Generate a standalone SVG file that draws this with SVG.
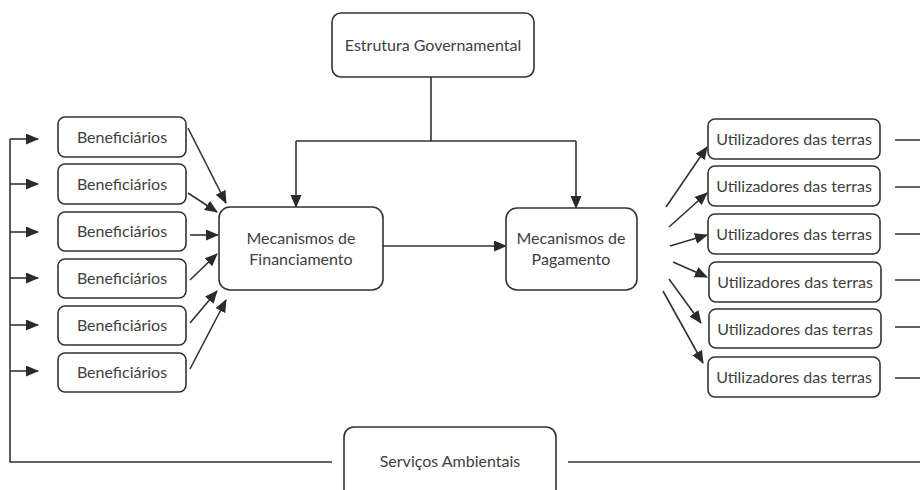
<svg xmlns="http://www.w3.org/2000/svg" width="920" height="490" viewBox="0 0 920 490">
<defs>
<marker id="ah" markerUnits="userSpaceOnUse" markerWidth="13" markerHeight="12" refX="12" refY="5.5" orient="auto">
<path d="M0,0 L13,5.5 L0,11 z" fill="#2a2a2a"/>
</marker>
<style>
.box{fill:#fff;stroke:#333;stroke-width:1.6}
.t{font-family:Lato,"Open Sans","Liberation Sans",sans-serif;font-size:16px;fill:#404040;text-anchor:middle}
.c{fill:none;stroke:#333;stroke-width:1.6}
.a{fill:none;stroke:#333;stroke-width:1.6;marker-end:url(#ah)}
</style>
</defs>
<rect width="920" height="490" fill="#fff"/>
<g id="connectors">
<path class="c" d="M431,77 V141 M296,141 H576"/>
<path class="a" d="M296,141 V207"/>
<path class="a" d="M576,141 V208"/>
<path class="a" d="M383,246 H506"/>
<path class="c" d="M10,139 V462 H332"/>
<path class="c" d="M568,462 H920"/>
<path class="a" d="M10,139 H38"/>
<path class="a" d="M10,184 H38"/>
<path class="a" d="M10,232 H38"/>
<path class="a" d="M10,278 H38"/>
<path class="a" d="M10,325 H38"/>
<path class="a" d="M10,371 H38"/>
<path class="a" d="M188,128 L226,203"/>
<path class="a" d="M188,193 L217,212"/>
<path class="a" d="M190,235 H218"/>
<path class="a" d="M190,280 L217,254"/>
<path class="a" d="M190,323 L217,291"/>
<path class="a" d="M190,369 L226,300"/>
<path class="a" d="M666,207 L707,147"/>
<path class="a" d="M669,227 L707,193"/>
<path class="a" d="M670,246 L707,235"/>
<path class="a" d="M673,262 L707,277"/>
<path class="a" d="M669,279 L701,323"/>
<path class="a" d="M663,291 L703,363"/>
<path class="c" d="M895,140 H920 M895,187 H920 M895,234 H920 M895,280 H920 M895,327 H920 M895,378 H920"/>
</g>
<g id="gov"><rect class="box" x="332" y="13" width="202" height="64" rx="9"/><text class="t" x="433" y="51">Estrutura Governamental</text></g>
<g id="fin"><rect class="box" x="219" y="207" width="164" height="83" rx="11"/><text class="t" x="301" y="244">Mecanismos de</text><text class="t" x="301" y="265">Financiamento</text></g>
<g id="pag"><rect class="box" x="506" y="208" width="131" height="82" rx="11"/><text class="t" x="571" y="244">Mecanismos de</text><text class="t" x="571" y="265">Pagamento</text></g>
<g id="ben1"><rect class="box" x="58" y="117" width="128" height="40" rx="7"/><text class="t" x="122" y="143">Beneficiários</text></g>
<g id="ben2"><rect class="box" x="58" y="164" width="128" height="40" rx="7"/><text class="t" x="122" y="190">Beneficiários</text></g>
<g id="ben3"><rect class="box" x="58" y="212" width="128" height="39" rx="7"/><text class="t" x="122" y="237">Beneficiários</text></g>
<g id="ben4"><rect class="box" x="58" y="259" width="128" height="39" rx="7"/><text class="t" x="122" y="284">Beneficiários</text></g>
<g id="ben5"><rect class="box" x="58" y="306" width="128" height="39" rx="7"/><text class="t" x="122" y="331">Beneficiários</text></g>
<g id="ben6"><rect class="box" x="58" y="353" width="128" height="39" rx="7"/><text class="t" x="122" y="378">Beneficiários</text></g>
<g id="util1"><rect class="box" x="708" y="119" width="172" height="40" rx="7"/><text class="t" x="794" y="145">Utilizadores das terras</text></g>
<g id="util2"><rect class="box" x="708" y="166" width="172" height="40" rx="7"/><text class="t" x="794" y="192">Utilizadores das terras</text></g>
<g id="util3"><rect class="box" x="708" y="214" width="172" height="40" rx="7"/><text class="t" x="794" y="240">Utilizadores das terras</text></g>
<g id="util4"><rect class="box" x="709" y="262" width="172" height="40" rx="7"/><text class="t" x="795" y="288">Utilizadores das terras</text></g>
<g id="util5"><rect class="box" x="709" y="309" width="172" height="39" rx="7"/><text class="t" x="795" y="335">Utilizadores das terras</text></g>
<g id="util6"><rect class="box" x="708" y="357" width="172" height="40" rx="7"/><text class="t" x="794" y="383">Utilizadores das terras</text></g>
<g id="serv"><rect class="box" x="344" y="427" width="212" height="72" rx="10"/><text class="t" x="450" y="467">Serviços Ambientais</text></g>
</svg>
